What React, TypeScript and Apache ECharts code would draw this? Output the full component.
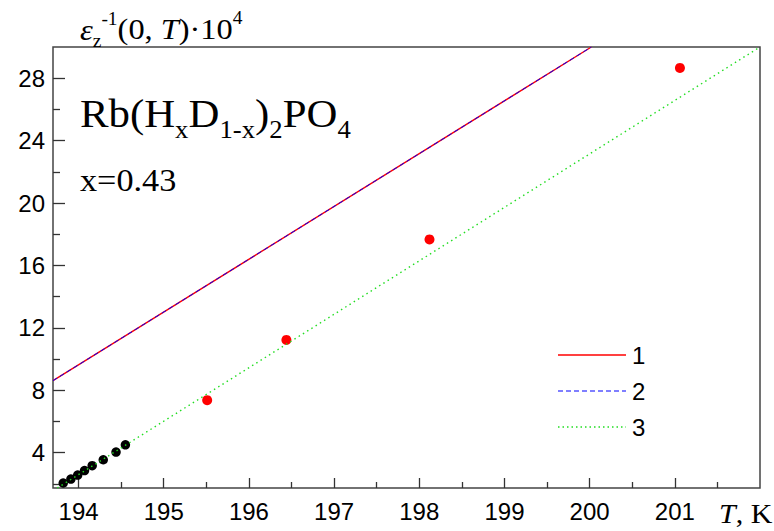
import React, { useEffect, useRef } from "react";
import * as echarts from "echarts";

// ---- data ----
const xTickValues = [194, 195, 196, 197, 198, 199, 200, 201];
const xMinorValues = [194.5, 195.5, 196.5, 197.5, 198.5, 199.5, 200.5, 201.5];
const yTickValues = [4, 8, 12, 16, 20, 24, 28];
const yMinorValues = [2, 6, 10, 14, 18, 22, 26];

const blackT = [193.82, 193.91, 193.99, 194.07, 194.16, 194.29, 194.44, 194.55];
const blackE = [2.06, 2.31, 2.57, 2.86, 3.17, 3.55, 4.04, 4.51];
const redT = [195.51, 196.44, 198.12, 201.06];
const redE = [7.37, 11.23, 17.67, 28.66];

const fit1T = [193.7, 200.02];
const fit1E = [8.62, 30];
const fit2T = [193.7, 200.02];
const fit2E = [8.62, 30];
const fit3T = [193.75, 202];
const fit3E = [1.74, 30];

const legendNames = ["1", "2", "3"];

const X_MIN = 193.7;
const X_MAX = 202;
const Y_MIN = 1.74;
const Y_MAX = 30;

const SERIF = "'Liberation Serif', 'Times New Roman', serif";
const SANS = "'Liberation Sans', Arial, sans-serif";

const RED = "#ff0000";
const BLUE = "#0000ff";
const GREEN = "#22dd22";

const zip = (a: number[], b: number[]) => a.map((v, i) => [v, b[i]]);

let measureCtx: CanvasRenderingContext2D | null = null;
function measure(text: string, font: string) {
  if (!measureCtx) measureCtx = document.createElement("canvas").getContext("2d");
  measureCtx!.font = font;
  return measureCtx!.measureText(text).width;
}

type Seg = { t: string; size: number; dy?: number; italic?: boolean };
function richLine(segs: Seg[], x0: number, baseline: number, family: string, sx: number) {
  const els: any[] = [];
  let x = x0;
  for (const s of segs) {
    const font = `${s.italic ? "italic " : ""}${s.size}px ${family}`;
    const w = measure(s.t, font) * sx;
    els.push({
      type: "text",
      x,
      y: baseline + (s.dy || 0) - 0.34 * s.size,
      scaleX: sx,
      silent: true,
      style: {
        text: s.t,
        font,
        fill: "#000",
        align: "left",
        verticalAlign: "middle",
      },
    });
    x += w;
  }
  return els;
}

function legendItem(name: string, color: string, dash: number[] | null, y: number, width: number) {
  return [
    {
      type: "line",
      silent: true,
      shape: { x1: 558, y1: y, x2: 626, y2: y },
      style: { stroke: color, lineWidth: width, lineDash: dash || undefined },
    },
    {
      type: "text",
      x: 632,
      y,
      silent: true,
      style: {
        text: name,
        font: `24px ${SANS}`,
        fill: "#000",
        align: "left",
        verticalAlign: "middle",
      },
    },
  ];
}

export default function App() {
  const ref = useRef<HTMLDivElement>(null);
  useEffect(() => {
    if (!ref.current) return;
    const chart = echarts.init(ref.current, null, { renderer: "svg" });
    const graphics = [
      ...richLine(
        [
          { t: "\u03B5", size: 30, italic: true, dy: 1 },
          { t: "z", size: 18, dy: 8 },
          { t: "-1", size: 18, dy: -14 },
          { t: "(0, ", size: 30 },
          { t: "T", size: 30, italic: true },
          { t: ")\u00B710", size: 30 },
          { t: "4", size: 18, dy: -15 },
        ],
        80,
        39,
        SERIF,
        1.08
      ),
      ...richLine(
        [
          { t: "Rb(H", size: 40 },
          { t: "x", size: 25, dy: 11 },
          { t: "D", size: 40 },
          { t: "1-x", size: 25, dy: 11 },
          { t: ")", size: 40 },
          { t: "2", size: 25, dy: 11 },
          { t: "PO", size: 40 },
          { t: "4", size: 25, dy: 11 },
        ],
        80,
        127,
        SERIF,
        1.07
      ),
      ...richLine([{ t: "x=0.43", size: 32 }], 80, 191, SERIF, 1.07),
      ...richLine(
        [
          { t: "T", size: 28, italic: true },
          { t: ", K", size: 28 },
        ],
        719,
        523,
        SERIF,
        1.07
      ),
      ...legendItem(legendNames[0], RED, null, 355, 1.4),
      ...legendItem(legendNames[1], BLUE, [5, 3], 391, 1.2),
      ...legendItem(legendNames[2], GREEN, [1.5, 3], 427, 1.4),
    ];

    const axisCommon = {
      type: "value" as const,
      splitLine: { show: false },
      axisLine: { show: false },
    };

    chart.setOption({
      animation: false,
      backgroundColor: "#fff",
      grid: {
        left: 53,
        top: 47,
        right: 14,
        bottom: 43,
        show: true,
        borderColor: "#444",
        borderWidth: 1.5,
        outerBoundsMode: "none",
      },
      xAxis: [
        {
          ...axisCommon,
          min: X_MIN,
          max: X_MAX,
          axisTick: {
            inside: true,
            length: 10,
            customValues: xTickValues,
            lineStyle: { color: "#333", width: 1.3 },
          },
          axisLabel: {
            customValues: xTickValues,
            margin: 11,
            fontFamily: SANS,
            fontSize: 24,
            color: "#000",
          },
        },
        {
          ...axisCommon,
          min: X_MIN,
          max: X_MAX,
          position: "bottom",
          axisTick: {
            inside: true,
            length: 6,
            customValues: xMinorValues,
            lineStyle: { color: "#333", width: 1.3 },
          },
          axisLabel: { show: false },
        },
      ],
      yAxis: [
        {
          ...axisCommon,
          min: Y_MIN,
          max: Y_MAX,
          axisTick: {
            inside: true,
            length: 12,
            customValues: yTickValues,
            lineStyle: { color: "#333", width: 1.3 },
          },
          axisLabel: {
            customValues: yTickValues,
            margin: 8,
            fontFamily: SANS,
            fontSize: 24,
            color: "#000",
          },
        },
        {
          ...axisCommon,
          min: Y_MIN,
          max: Y_MAX,
          position: "left",
          axisTick: {
            inside: true,
            length: 7,
            customValues: yMinorValues,
            lineStyle: { color: "#333", width: 1.3 },
          },
          axisLabel: { show: false },
        },
      ],
      series: [
        {
          type: "scatter",
          name: "points-low",
          data: zip(blackT, blackE),
          symbolSize: 9.5,
          itemStyle: { color: "#000", opacity: 1 },
          z: 2,
        },
        {
          type: "scatter",
          name: "points-high",
          data: zip(redT, redE),
          symbolSize: 10,
          itemStyle: { color: RED, opacity: 1 },
          z: 2,
        },
        {
          type: "line",
          name: legendNames[0],
          data: zip(fit1T, fit1E),
          symbol: "none",
          lineStyle: { color: RED, width: 1.4 },
          itemStyle: { color: RED },
          z: 3,
        },
        {
          type: "line",
          name: legendNames[1],
          data: zip(fit2T, fit2E),
          symbol: "none",
          lineStyle: { color: BLUE, width: 1, type: [5, 3] },
          itemStyle: { color: BLUE },
          z: 4,
        },
        {
          type: "line",
          name: legendNames[2],
          data: zip(fit3T, fit3E),
          symbol: "none",
          lineStyle: { color: GREEN, width: 1.4, type: [1.5, 3.5] },
          itemStyle: { color: GREEN },
          z: 5,
        },
      ],
      graphic: graphics,
    });
    return () => chart.dispose();
  }, []);
  return (
    <div
      ref={ref}
      style={{ position: "fixed", left: 0, top: 0, width: 774, height: 531, background: "#fff" }}
    />
  );
}
